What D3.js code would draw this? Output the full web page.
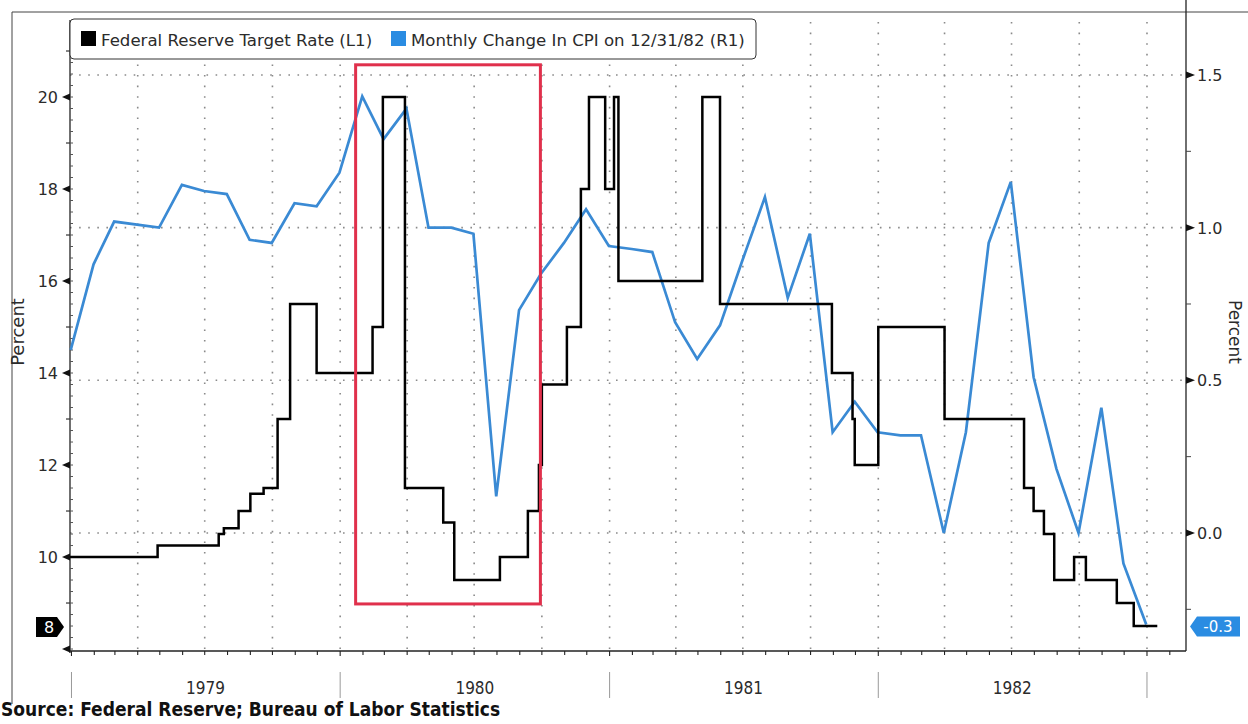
<!DOCTYPE html>
<html>
<head>
<meta charset="utf-8">
<script src="https://cdn.jsdelivr.net/npm/d3@7"></script>
<style>
  html, body { margin: 0; padding: 0; background: #fff; }
  svg { display: block; }
</style>
</head>
<body>
<svg id="chart" width="1248" height="724"></svg>
<script>
// ---------------- DATA ----------------
const rateName = "Federal Reserve Target Rate (L1)";
const cpiName = "Monthly Change In CPI on 12/31/82 (R1)";
const sourceText = "Source: Federal Reserve; Bureau of Labor Statistics";
const yearLabels = ["1979", "1980", "1981", "1982"];
const leftTicks = [10, 12, 14, 16, 18, 20];
const rightTicks = [0.0, 0.5, 1.0, 1.5];
const lastRateLabel = "8";
const lastCpiLabel = "-0.3";

// Fed target rate: change dates and the level from that date on
const rateDates = ["1978-12-30","1979-04-28","1979-07-20","1979-07-27","1979-08-16","1979-09-01","1979-09-19","1979-10-08","1979-10-25","1979-11-30",
  "1980-02-14","1980-02-28","1980-03-29","1980-05-20","1980-06-04","1980-08-05","1980-09-12","1980-09-27","1980-10-01","1980-11-04",
  "1980-11-23","1980-12-04","1980-12-26","1981-01-07","1981-01-13","1981-05-07","1981-05-31","1981-10-30","1981-11-27","1981-11-30",
  "1982-01-01","1982-04-01","1982-07-18","1982-07-31","1982-08-14","1982-08-28","1982-09-24","1982-10-10","1982-11-21","1982-12-14","1983-01-15"];
const rateValues = [10,10.25,10.5,10.625,11,11.375,11.5,13,15.5,14,
  15,20,11.5,10.75,9.5,10,11,12,13.75,15,
  18,20,18,20,16,20,15.5,14,13,12,
  15,13,11.5,11,10.5,9.5,10,9.5,9,8.5,8.5];

// Monthly CPI change (percent), plotted at month end
const cpiMonths = ["1978-12","1979-01","1979-02","1979-03","1979-04","1979-05","1979-06","1979-07","1979-08","1979-09","1979-10","1979-11","1979-12",
  "1980-01","1980-02","1980-03","1980-04","1980-05","1980-06","1980-07","1980-08","1980-09","1980-10","1980-11","1980-12",
  "1981-01","1981-02","1981-03","1981-04","1981-05","1981-06","1981-07","1981-08","1981-09","1981-10","1981-11","1981-12",
  "1982-01","1982-02","1982-03","1982-04","1982-05","1982-06","1982-07","1982-08","1982-09","1982-10","1982-11","1982-12"];
const cpiValues = [0.60,0.88,1.02,1.01,1.00,1.14,1.12,1.11,0.96,0.95,1.08,1.07,1.18,
  1.43,1.29,1.39,1.00,1.00,0.98,0.12,0.73,0.85,0.95,1.06,0.94,
  0.93,0.92,0.69,0.57,0.68,0.89,1.10,0.77,0.98,0.33,0.43,0.33,
  0.32,0.32,0.00,0.33,0.95,1.15,0.51,0.21,0.00,0.41,-0.10,-0.30];

// Highlight box (data coordinates: dates, left-axis values)
const boxDates = ["1980-01-22", "1980-09-29"];
const boxValues = [8.98, 20.7];

// ---------------- SETUP ----------------
const parse = d3.utcParse("%Y-%m-%d");
const parseMonth = d3.utcParse("%Y-%m");
const svg = d3.select("#chart");
const W = 1248, H = 724;
const plot = { left: 70, right: 1186, top: 20, bottom: 651 };

const x = d3.scaleUtc()
  .domain([parse("1978-12-30"), parse("1983-02-23")])
  .range([plot.left, plot.right]);
const yL = d3.scaleLinear().domain([7.957, 21.674]).range([plot.bottom, plot.top]);
const yR = d3.scaleLinear().domain([-0.3865, 1.6801]).range([plot.bottom, plot.top]);

const textCol = "#2b2b2b";
const gridCol = "#8a8a8a";
const fontMain = "'DejaVu Sans', Verdana, sans-serif";
const fontNarrow = "'DejaVu Sans Condensed', 'Liberation Sans Narrow', 'DejaVu Sans', sans-serif";

// outer frame (left + top)
svg.append("path")
  .attr("d", `M12,${H - 20} L12,12 L${W},12`)
  .attr("fill", "none").attr("stroke", "#444").attr("stroke-width", 1);

// ---------------- GRID ----------------
const quarterDates = d3.utcMonth.every(3).range(parse("1979-02-01"), parse("1983-02-01"));
svg.append("g").selectAll("line").data(quarterDates).join("line")
  .attr("x1", d => x(d)).attr("x2", d => x(d))
  .attr("y1", plot.top + 2).attr("y2", plot.bottom)
  .attr("stroke", gridCol).attr("stroke-width", 1.6)
  .attr("stroke-dasharray", "1.6,9");
svg.append("g").selectAll("line").data(rightTicks).join("line")
  .attr("x1", plot.left).attr("x2", plot.right)
  .attr("y1", d => yR(d)).attr("y2", d => yR(d))
  .attr("stroke", gridCol).attr("stroke-width", 1.6)
  .attr("stroke-dasharray", "1.6,7.5");

// ---------------- AXES ----------------
// left axis
svg.append("line").attr("x1", plot.left).attr("x2", plot.left)
  .attr("y1", plot.top).attr("y2", plot.bottom + 2)
  .attr("stroke", "#222").attr("stroke-width", 1.3);
const leftMinor = d3.range(8, 21.6, 0.25);
svg.append("g").selectAll("line").data(leftMinor).join("line")
  .attr("x1", plot.left).attr("x2", plot.left + 3)
  .attr("y1", d => yL(d)).attr("y2", d => yL(d))
  .attr("stroke", "#555").attr("stroke-width", 1);
const leftMid = d3.range(9, 22, 2);
svg.append("g").selectAll("line").data(leftMid).join("line")
  .attr("x1", plot.left - 4).attr("x2", plot.left)
  .attr("y1", d => yL(d)).attr("y2", d => yL(d))
  .attr("stroke", "#333").attr("stroke-width", 1.2);
const leftMajor = [8].concat(leftTicks);
svg.append("g").selectAll("path").data(leftMajor).join("path")
  .attr("d", d => `M${plot.left},${yL(d) - 3.5} L${plot.left - 8},${yL(d)} L${plot.left},${yL(d) + 3.5} Z`)
  .attr("fill", "#111");
svg.append("g").selectAll("text").data(leftTicks).join("text")
  .attr("x", plot.left - 12).attr("y", d => yL(d) + 6)
  .attr("text-anchor", "end").attr("fill", textCol)
  .attr("font-family", fontMain).attr("font-size", 16)
  .text(d => d);

// right axis
svg.append("line").attr("x1", plot.right).attr("x2", plot.right)
  .attr("y1", 0).attr("y2", plot.bottom)
  .attr("stroke", "#222").attr("stroke-width", 1.3);
const rightMinor = [-0.25, 0.25, 0.75, 1.25];
svg.append("g").selectAll("line").data(rightMinor).join("line")
  .attr("x1", plot.right).attr("x2", plot.right + 5)
  .attr("y1", d => yR(d)).attr("y2", d => yR(d))
  .attr("stroke", "#444").attr("stroke-width", 1);
svg.append("g").selectAll("path").data(rightTicks).join("path")
  .attr("d", d => `M${plot.right},${yR(d) - 3.5} L${plot.right + 9},${yR(d)} L${plot.right},${yR(d) + 3.5} Z`)
  .attr("fill", "#111");
svg.append("g").selectAll("text").data(rightTicks).join("text")
  .attr("x", plot.right + 11).attr("y", d => yR(d) + 6)
  .attr("fill", textCol)
  .attr("font-family", fontMain).attr("font-size", 16)
  .text(d => d3.format(".1f")(d));

// bottom axis
svg.append("line").attr("x1", plot.left).attr("x2", plot.right)
  .attr("y1", plot.bottom).attr("y2", plot.bottom)
  .attr("stroke", "#222").attr("stroke-width", 1.3);
const monthTicks = d3.utcMonth.range(parse("1979-01-01"), parse("1983-02-02"));
svg.append("g").selectAll("line").data(monthTicks).join("line")
  .attr("x1", d => x(d)).attr("x2", d => x(d))
  .attr("y1", plot.bottom).attr("y2", d => plot.bottom + (d.getUTCMonth() === 0 ? 5 : 4))
  .attr("stroke", "#222").attr("stroke-width", 1.1);
const yearStarts = d3.utcYear.range(parse("1979-01-01"), parse("1983-01-02"));
svg.append("g").selectAll("line").data(yearStarts).join("line")
  .attr("x1", d => x(d)).attr("x2", d => x(d))
  .attr("y1", 672).attr("y2", 698)
  .attr("stroke", "#999").attr("stroke-width", 1);
svg.append("g").selectAll("text").data(yearLabels).join("text")
  .attr("x", d => x(parse(d + "-07-02")))
  .attr("y", 694)
  .attr("text-anchor", "middle").attr("fill", textCol)
  .attr("font-family", fontNarrow).attr("font-size", 17)
  .text(d => d);

// axis titles
svg.append("text")
  .attr("transform", "translate(24,332) rotate(-90)")
  .attr("text-anchor", "middle").attr("fill", textCol)
  .attr("font-family", fontMain).attr("font-size", 18)
  .text("Percent");
svg.append("text")
  .attr("transform", "translate(1229,332) rotate(90)")
  .attr("text-anchor", "middle").attr("fill", textCol)
  .attr("font-family", fontMain).attr("font-size", 17)
  .text("Percent");

// ---------------- SERIES ----------------
const rateData = rateDates.map((d, i) => ({ date: parse(d), value: rateValues[i] }));
const cpiData = cpiMonths.map((m, i) => ({
  date: d3.utcDay.offset(d3.utcMonth.offset(parseMonth(m), 1), -1),
  value: cpiValues[i]
}));

svg.append("path").datum(cpiData)
  .attr("fill", "none").attr("stroke", "#3a8ad4").attr("stroke-width", 2.7)
  .attr("stroke-linejoin", "miter")
  .attr("d", d3.line().x(d => x(d.date)).y(d => yR(d.value)));

svg.append("path").datum(rateData)
  .attr("fill", "none").attr("stroke", "#000").attr("stroke-width", 2.5)
  .attr("d", d3.line().curve(d3.curveStepAfter).x(d => x(d.date)).y(d => yL(d.value)));

// highlight box
svg.append("rect")
  .attr("x", x(parse(boxDates[0])))
  .attr("y", yL(boxValues[1]))
  .attr("width", x(parse(boxDates[1])) - x(parse(boxDates[0])))
  .attr("height", yL(boxValues[0]) - yL(boxValues[1]))
  .attr("fill", "none").attr("stroke", "#e0304c").attr("stroke-width", 3);

// ---------------- LAST VALUE MARKERS ----------------
const lastRate = rateValues[rateValues.length - 1];
const ly = yL(lastRate) + 1;
svg.append("path")
  .attr("d", `M36,${ly - 10} L57,${ly - 10} L64,${ly} L57,${ly + 10} L36,${ly + 10} Z`)
  .attr("fill", "#000");
svg.append("text").attr("x", 49).attr("y", ly + 6)
  .attr("text-anchor", "middle").attr("fill", "#fff")
  .attr("font-family", fontMain).attr("font-size", 16)
  .text(lastRateLabel);

const lastCpi = cpiValues[cpiValues.length - 1];
const ry = yR(lastCpi) + 2;
svg.append("path")
  .attr("d", `M1190,${ry} L1197,${ry - 10} L1240,${ry - 10} L1240,${ry + 10} L1197,${ry + 10} Z`)
  .attr("fill", "#2a8ce2");
svg.append("text").attr("x", 1218).attr("y", ry + 5.5)
  .attr("text-anchor", "middle").attr("fill", "#fff")
  .attr("font-family", fontMain).attr("font-size", 15)
  .text(lastCpiLabel);

// ---------------- LEGEND ----------------
const lg = svg.append("g");
lg.append("rect").attr("x", 70).attr("y", 19).attr("width", 686).attr("height", 40)
  .attr("rx", 4).attr("fill", "#fff").attr("stroke", "#333").attr("stroke-width", 1);
const legendItems = [
  { name: rateName, color: "#000", x: 81, size: 16.6 },
  { name: cpiName, color: "#2a8ce2", x: 391, size: 16.6 }
];
legendItems.forEach(it => {
  lg.append("rect").attr("x", it.x).attr("y", 31).attr("width", 15).attr("height", 15).attr("fill", it.color);
  lg.append("text").attr("x", it.x + 20).attr("y", 46)
    .attr("fill", textCol).attr("font-family", fontMain).attr("font-size", it.size)
    .text(it.name);
});

// ---------------- SOURCE ----------------
svg.append("text").attr("x", 1).attr("y", 716)
  .attr("fill", "#111").attr("font-family", fontNarrow).attr("font-weight", "bold").attr("font-size", 19)
  .text(sourceText);
</script>
</body>
</html>
